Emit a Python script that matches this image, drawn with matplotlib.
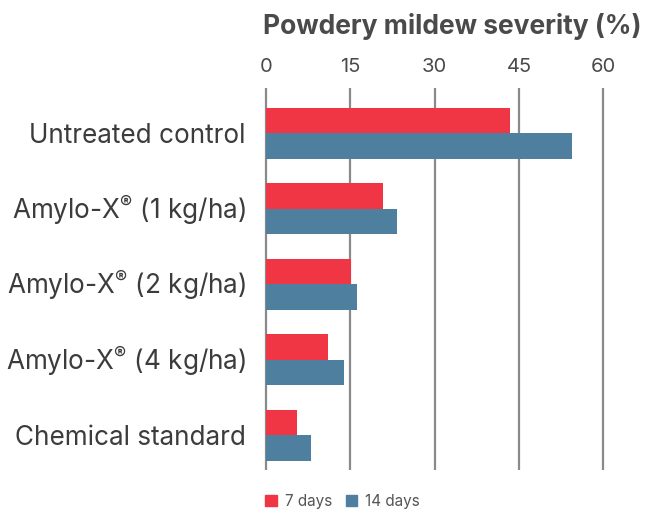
import numpy as np
import matplotlib.pyplot as plt
import matplotlib.transforms as mtransforms
from matplotlib.patches import Patch

plt.rcParams['font.family'] = ['Inter', 'DejaVu Sans']
plt.rcParams['mathtext.fontset'] = 'custom'
plt.rcParams['mathtext.rm'] = 'Inter'
plt.rcParams['mathtext.it'] = 'Inter'

categories = ['Untreated control', 'Amylo-X$^{\\mathrm{®}}$ (1 kg/ha)',
              'Amylo-X$^{\\mathrm{®}}$ (2 kg/ha)', 'Amylo-X$^{\\mathrm{®}}$ (4 kg/ha)',
              'Chemical standard']
days7 = [43.4, 20.9, 15.2, 11.1, 5.6]
days14 = [54.4, 23.3, 16.2, 13.9, 8.0]
ticks = [0, 15, 30, 45, 60]

red = '#f03545'
blue = '#4e7f9e'

fig = plt.figure(figsize=(6.56, 5.13), dpi=100)
ax = fig.add_axes([0.4024, 0.0838, 0.569, 0.7446])

y = np.arange(len(categories))
h = 0.338
ax.barh(y - h / 2, days7, height=h, color=red, zorder=2)
ax.barh(y + h / 2, days14, height=h, color=blue, zorder=2)

for t in ticks:
    ax.axvline(t, color='#8a8a8a', lw=1.6, zorder=1)

ax.set_xlim(-0.3, 66)
ax.set_ylim(4.46, -0.6)
ax.xaxis.tick_top()
ax.set_xticks(ticks)
ax.tick_params(axis='x', length=0, pad=9, labelsize=14.5, labelcolor='#4a4a4a')
ax.set_yticks(y)
ax.set_yticklabels(categories)
ax.tick_params(axis='y', length=0, pad=13, labelsize=18.8, labelcolor='#3c3c3c')
for s in ax.spines.values():
    s.set_visible(False)

# superscript makes the mathtext labels sit a bit low
shift = mtransforms.ScaledTranslation(0, 2.5 / 72, fig.dpi_scale_trans)
for lbl in ax.get_yticklabels():
    if '$' in lbl.get_text():
        lbl.set_transform(lbl.get_transform() + shift)

fig.text(0.69, 0.948, 'Powdery mildew severity (%)', ha='center', va='center',
         fontsize=19, fontweight='bold', color='#4a4a4a')

handles = [Patch(color=red, label='7 days'), Patch(color=blue, label='14 days')]
fig.legend(handles=handles, loc='center', bbox_to_anchor=(0.522, 0.022), ncol=2,
           frameon=False, fontsize=11, handlelength=0.75, handleheight=0.75,
           handletextpad=0.5, columnspacing=0.9, labelcolor='#555555')

plt.savefig('out.png', dpi=100)
